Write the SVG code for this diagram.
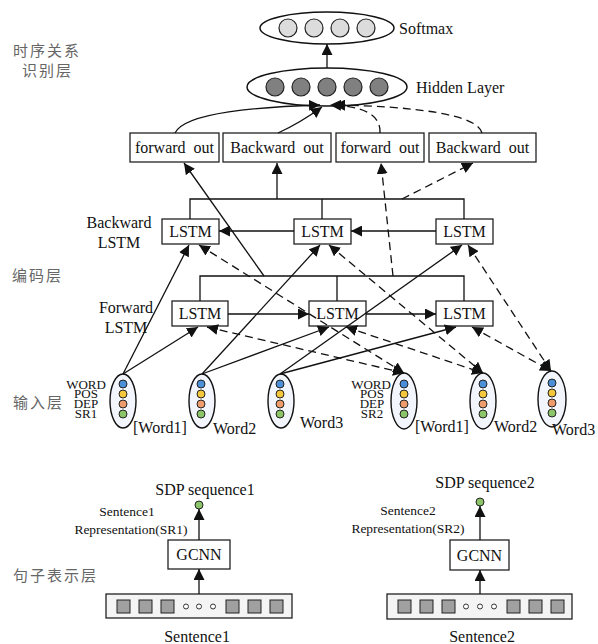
<svg xmlns="http://www.w3.org/2000/svg" width="598" height="644" viewBox="0 0 598 644">
<style>
.t{font-family:"Liberation Serif","Times New Roman",serif;fill:#111}
.cn{font-family:"Noto Sans CJK SC",sans-serif;fill:#666;font-size:15px;letter-spacing:2px}
.box{fill:#fff;stroke:#222;stroke-width:1.3}
.ln{fill:none;stroke:#111;stroke-width:1.3}
.ds{fill:none;stroke:#111;stroke-width:1.3;stroke-dasharray:8,5}
.ell{fill:#fff;stroke:#111;stroke-width:1.5}
.inell{fill:#f2f5fb;stroke:#111;stroke-width:1.4}
.sm{fill:#dcdcdc;stroke:#222;stroke-width:1.2}
.hd{fill:#808080;stroke:#222;stroke-width:1.2}
.cb{fill:#4a8fd8;stroke:#222;stroke-width:1}
.cy{fill:#f2c73c;stroke:#222;stroke-width:1}
.co{fill:#ee9c6c;stroke:#222;stroke-width:1}
.cg{fill:#8cc46a;stroke:#222;stroke-width:1}
.sq{fill:#a0a0a0;stroke:#222;stroke-width:1}
.dot{fill:#fff;stroke:#333;stroke-width:1}
.bar{fill:#f4f4f4;stroke:#222;stroke-width:1.3}
</style>
<defs>
<marker id="ah" viewBox="0 0 10 10" refX="10" refY="5" markerWidth="11" markerHeight="11" markerUnits="userSpaceOnUse" orient="auto">
<path d="M0,0 L10,5 L0,10 z" fill="#111"/>
</marker>
<marker id="as" viewBox="0 0 10 10" refX="0" refY="5" markerWidth="11" markerHeight="11" markerUnits="userSpaceOnUse" orient="auto">
<path d="M10,0 L0,5 L10,10 z" fill="#111"/>
</marker>
</defs>

<!-- layer labels -->
<text class="cn" x="13" y="56">时序关系</text>
<text class="cn" x="22" y="76">识别层</text>
<text class="cn" x="12" y="281">编码层</text>
<text class="cn" x="13" y="408">输入层</text>
<text class="cn" x="13" y="581">句子表示层</text>

<!-- Softmax -->
<g id="softmax">
<ellipse class="ell" cx="327" cy="28" rx="67" ry="16"/>
<circle class="sm" cx="288" cy="28" r="9"/>
<circle class="sm" cx="314" cy="28" r="9"/>
<circle class="sm" cx="340" cy="28" r="9"/>
<circle class="sm" cx="366" cy="28" r="9"/>
<text class="t" x="399" y="34" font-size="16">Softmax</text>
</g>

<!-- Hidden layer -->
<g id="hidden">
<ellipse class="ell" cx="327" cy="87" rx="80" ry="19"/>
<circle class="hd" cx="275" cy="87" r="9"/>
<circle class="hd" cx="301" cy="87" r="9"/>
<circle class="hd" cx="327" cy="87" r="9"/>
<circle class="hd" cx="353" cy="87" r="9"/>
<circle class="hd" cx="379" cy="87" r="9"/>
<text class="t" x="416" y="93" font-size="16">Hidden Layer</text>
</g>

<!-- output boxes -->
<g id="fout1"><rect class="box" x="130" y="133" width="89" height="29"/><text class="t" x="174.5" y="153" font-size="16" text-anchor="middle" xml:space="preserve">forward  out</text></g>
<g id="bout1"><rect class="box" x="223" y="133" width="108" height="29"/><text class="t" x="277" y="153" font-size="16" text-anchor="middle" xml:space="preserve">Backward  out</text></g>
<g id="fout2"><rect class="box" x="336" y="133" width="88" height="29"/><text class="t" x="380" y="153" font-size="16" text-anchor="middle" xml:space="preserve">forward  out</text></g>
<g id="bout2"><rect class="box" x="429" y="133" width="107" height="29"/><text class="t" x="482.5" y="153" font-size="16" text-anchor="middle" xml:space="preserve">Backward  out</text></g>

<!-- LSTM labels -->
<text class="t" x="119" y="228" font-size="16" text-anchor="middle">Backward</text>
<text class="t" x="119" y="248" font-size="16" text-anchor="middle">LSTM</text>
<text class="t" x="126" y="313" font-size="16" text-anchor="middle">Forward</text>
<text class="t" x="126" y="333" font-size="16" text-anchor="middle">LSTM</text>

<!-- Backward LSTMs -->
<g id="blstm1"><rect class="box" x="162" y="219" width="57" height="25"/><text class="t" x="190.5" y="237" font-size="16" text-anchor="middle">LSTM</text></g>
<g id="blstm2"><rect class="box" x="294" y="219" width="57" height="25"/><text class="t" x="322.5" y="237" font-size="16" text-anchor="middle">LSTM</text></g>
<g id="blstm3"><rect class="box" x="436" y="219" width="57" height="25"/><text class="t" x="464.5" y="237" font-size="16" text-anchor="middle">LSTM</text></g>

<!-- Forward LSTMs -->
<g id="flstm1"><rect class="box" x="172" y="301" width="56" height="25"/><text class="t" x="200" y="319" font-size="16" text-anchor="middle">LSTM</text></g>
<g id="flstm2"><rect class="box" x="309" y="301" width="57" height="25"/><text class="t" x="337.5" y="319" font-size="16" text-anchor="middle">LSTM</text></g>
<g id="flstm3"><rect class="box" x="436" y="301" width="57" height="25"/><text class="t" x="464.5" y="319" font-size="16" text-anchor="middle">LSTM</text></g>

<!-- input ellipses -->
<g id="in1"><ellipse class="inell" cx="123" cy="401" rx="13" ry="27"/><circle class="cb" cx="123" cy="384" r="4"/><circle class="cy" cx="123" cy="394" r="4"/><circle class="co" cx="123" cy="404" r="4"/><circle class="cg" cx="123" cy="414" r="4"/></g>
<g id="in2"><ellipse class="inell" cx="202" cy="401" rx="13" ry="27"/><circle class="cb" cx="201" cy="384" r="4"/><circle class="cy" cx="201" cy="394" r="4"/><circle class="co" cx="201" cy="404" r="4"/><circle class="cg" cx="201" cy="414" r="4"/></g>
<g id="in3"><ellipse class="inell" cx="281" cy="401" rx="13" ry="27"/><circle class="cb" cx="280" cy="384" r="4"/><circle class="cy" cx="280" cy="394" r="4"/><circle class="co" cx="280" cy="404" r="4"/><circle class="cg" cx="280" cy="414" r="4"/></g>
<g id="in4"><ellipse class="inell" cx="404" cy="401" rx="13" ry="28"/><circle class="cb" cx="404" cy="384" r="4"/><circle class="cy" cx="404" cy="394" r="4"/><circle class="co" cx="404" cy="404" r="4"/><circle class="cg" cx="404" cy="414" r="4"/></g>
<g id="in5"><ellipse class="inell" cx="483" cy="401" rx="13" ry="28"/><circle class="cb" cx="483" cy="384" r="4"/><circle class="cy" cx="483" cy="394" r="4"/><circle class="co" cx="483" cy="404" r="4"/><circle class="cg" cx="483" cy="414" r="4"/></g>
<g id="in6"><ellipse class="inell" cx="552" cy="399" rx="14" ry="28"/><circle class="cb" cx="552" cy="383" r="4"/><circle class="cy" cx="552" cy="393" r="4"/><circle class="co" cx="552" cy="403" r="4"/><circle class="cg" cx="552" cy="413" r="4"/></g>

<!-- input labels -->
<g font-size="13" text-anchor="middle">
<text class="t" x="86" y="389">WORD</text>
<text class="t" x="86" y="398">POS</text>
<text class="t" x="86" y="408">DEP</text>
<text class="t" x="86" y="418">SR1</text>
<text class="t" x="371" y="389">WORD</text>
<text class="t" x="372" y="398">POS</text>
<text class="t" x="372" y="408">DEP</text>
<text class="t" x="372" y="418">SR2</text>
</g>
<g font-size="16">
<text class="t" x="133" y="433">[Word1]</text>
<text class="t" x="213" y="434">Word2</text>
<text class="t" x="300" y="428">Word3</text>
<text class="t" x="415" y="432">[Word1]</text>
<text class="t" x="494" y="432">Word2</text>
<text class="t" x="552" y="435">Word3</text>
</g>

<!-- sentence representation -->
<g id="sdp1">
<text class="t" x="205" y="495" font-size="16" text-anchor="middle">SDP sequence1</text>
<circle class="cg" cx="199" cy="505" r="4"/>
</g>
<text class="t" x="127" y="516" font-size="13.5" text-anchor="middle">Sentence1</text>
<text class="t" x="131" y="534" font-size="13.5" text-anchor="middle">Representation(SR1)</text>
<g id="gcnn1"><rect class="box" x="168" y="540" width="62" height="29"/><text class="t" x="199" y="560" font-size="16" text-anchor="middle">GCNN</text></g>
<g id="sent1">
<rect class="bar" x="106" y="594" width="186" height="24"/>
<rect class="sq" x="117" y="600" width="13" height="13"/>
<rect class="sq" x="139" y="600" width="13" height="13"/>
<rect class="sq" x="161" y="600" width="13" height="13"/>
<circle class="dot" cx="186" cy="606.5" r="2.5"/>
<circle class="dot" cx="199" cy="606.5" r="2.5"/>
<circle class="dot" cx="213" cy="606.5" r="2.5"/>
<rect class="sq" x="226" y="600" width="13" height="13"/>
<rect class="sq" x="248" y="600" width="13" height="13"/>
<rect class="sq" x="270" y="600" width="13" height="13"/>
<text class="t" x="197" y="642" font-size="16" text-anchor="middle">Sentence1</text>
</g>

<g id="sdp2">
<text class="t" x="485" y="488" font-size="16" text-anchor="middle">SDP sequence2</text>
<circle class="cg" cx="480" cy="502" r="4"/>
</g>
<text class="t" x="408" y="515" font-size="13.5" text-anchor="middle">Sentence2</text>
<text class="t" x="408" y="533" font-size="13.5" text-anchor="middle">Representation(SR2)</text>
<g id="gcnn2"><rect class="box" x="450" y="540" width="59" height="30"/><text class="t" x="479.5" y="561" font-size="16" text-anchor="middle">GCNN</text></g>
<g id="sent2">
<rect class="bar" x="387" y="594" width="185" height="25"/>
<rect class="sq" x="398" y="600" width="13" height="13"/>
<rect class="sq" x="420" y="600" width="13" height="13"/>
<rect class="sq" x="442" y="600" width="13" height="13"/>
<circle class="dot" cx="466" cy="606.5" r="2.5"/>
<circle class="dot" cx="480" cy="606.5" r="2.5"/>
<circle class="dot" cx="494" cy="606.5" r="2.5"/>
<rect class="sq" x="507" y="600" width="13" height="13"/>
<rect class="sq" x="529" y="600" width="13" height="13"/>
<rect class="sq" x="551" y="600" width="13" height="13"/>
<text class="t" x="482" y="642" font-size="16" text-anchor="middle">Sentence2</text>
</g>

<!-- connectors -->
<g id="connectors">
<path class="ln" d="M327,68 L327,44" marker-end="url(#ah)"/>
<path class="ln" d="M175,133 C185,112 260,107 320,105" marker-end="url(#ah)"/>
<path class="ln" d="M278,133 Q300,123 322,107" marker-end="url(#ah)"/>
<path class="ds" d="M380,133 C381,114 362,106 330,105" marker-end="url(#ah)"/>
<path class="ds" d="M482,133 C478,114 410,106 334,105" marker-end="url(#ah)"/>

<!-- backward bracket -->
<path class="ln" d="M190,219 V199 H464 V219 M322,219 V199"/>
<path class="ln" d="M277,199 V163" marker-end="url(#ah)"/>
<path class="ds" d="M402,199 L473,163" marker-end="url(#ah)"/>
<path class="ln" d="M436,231 H351" marker-end="url(#ah)"/>
<path class="ln" d="M294,231 H219" marker-end="url(#ah)"/>

<!-- forward bracket -->
<path class="ln" d="M200,301 V276 H464 V301 M337,301 V276"/>
<path class="ln" d="M264,276 L184,163" marker-end="url(#ah)"/>
<path class="ds" d="M393,276 L381,163" marker-end="url(#ah)"/>
<path class="ln" d="M228,314 H309" marker-end="url(#ah)"/>
<path class="ln" d="M366,314 H436" marker-end="url(#ah)"/>

<!-- solid inputs -->
<path class="ln" d="M123,374 L189,245" marker-end="url(#ah)"/>
<path class="ln" d="M123,374 L198,327" marker-end="url(#ah)"/>
<path class="ln" d="M202,374 L320,245" marker-end="url(#ah)"/>
<path class="ln" d="M202,374 L329,327" marker-end="url(#ah)"/>
<path class="ln" d="M280,374 L462,245" marker-end="url(#ah)"/>
<path class="ln" d="M280,374 L456,327" marker-end="url(#ah)"/>

<!-- dashed inputs (both ends) -->
<path class="ds" d="M199,245 L404,373" marker-start="url(#as)" marker-end="url(#ah)"/>
<path class="ds" d="M207,327 L404,373" marker-start="url(#as)" marker-end="url(#ah)"/>
<path class="ds" d="M329,245 L483,373" marker-start="url(#as)" marker-end="url(#ah)"/>
<path class="ds" d="M346,327 L483,373" marker-start="url(#as)" marker-end="url(#ah)"/>
<path class="ds" d="M468,245 L551,371" marker-start="url(#as)" marker-end="url(#ah)"/>
<path class="ds" d="M472,327 L551,371" marker-start="url(#as)" marker-end="url(#ah)"/>

<!-- sentence arrows -->
<path class="ln" d="M199,540 V509" marker-end="url(#ah)"/>
<path class="ln" d="M199,594 V569" marker-end="url(#ah)"/>
<path class="ln" d="M480,540 V506" marker-end="url(#ah)"/>
<path class="ln" d="M480,594 V570" marker-end="url(#ah)"/>
</g>
</svg>
